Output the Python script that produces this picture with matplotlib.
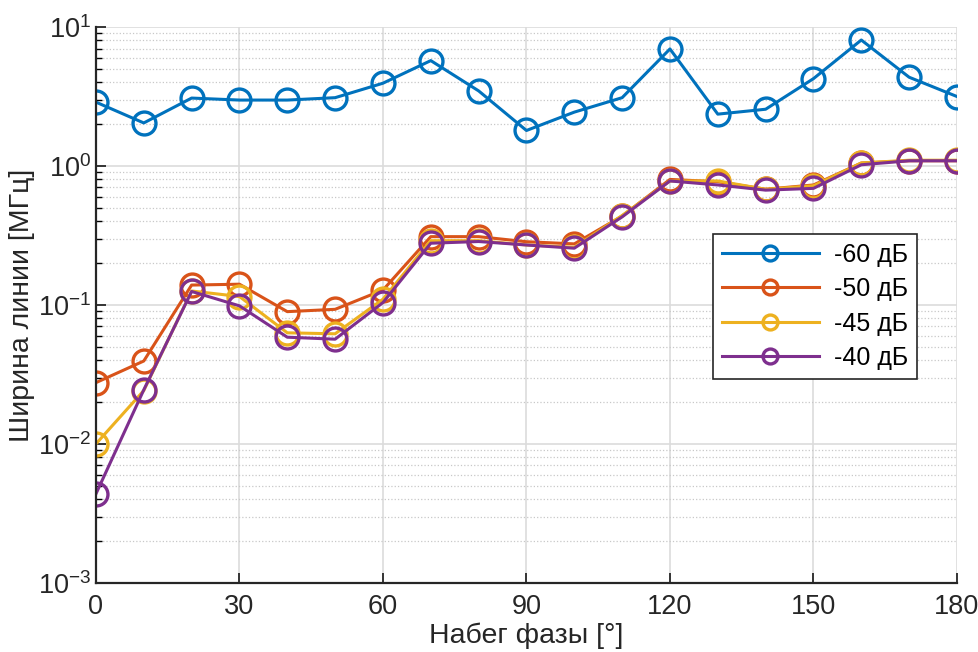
import numpy as np
import matplotlib
matplotlib.use('Agg')
import matplotlib.pyplot as plt
from matplotlib.ticker import LogLocator, FixedLocator, NullFormatter

plt.rcParams['font.family'] = ['Liberation Sans', 'DejaVu Sans']
plt.rcParams['mathtext.default'] = 'regular'

phase = [0, 10, 20, 30, 40, 50, 60, 70, 80, 90, 100, 110, 120, 130, 140, 150, 160, 170, 180]

w60 = [2.88, 2.04, 3.08, 2.98, 2.98, 3.10, 3.94, 5.73, 3.47, 1.80, 2.44, 3.10, 6.95, 2.36, 2.56, 4.25, 8.06, 4.35, 3.16]
w50 = [0.0276, 0.0395, 0.139, 0.141, 0.0895, 0.093, 0.128, 0.31, 0.31, 0.285, 0.275, 0.436, 0.80, 0.77, 0.68, 0.73, 1.05, 1.09, 1.09]
w45 = [0.0100, 0.0242, 0.126, 0.115, 0.063, 0.062, 0.110, 0.29, 0.29, 0.27, 0.26, 0.44, 0.78, 0.78, 0.68, 0.72, 1.05, 1.10, 1.10]
w40 = [0.00437, 0.0245, 0.125, 0.0985, 0.0586, 0.0567, 0.104, 0.278, 0.286, 0.27, 0.256, 0.43, 0.78, 0.73, 0.67, 0.69, 1.02, 1.09, 1.09]

labels = ['-60 дБ', '-50 дБ', '-45 дБ', '-40 дБ']
colors = ['#0072BD', '#D95319', '#EDB120', '#7E2F8E']

fig = plt.figure(figsize=(9.79, 6.52), dpi=100)
ax = fig.add_axes([0.098, 0.106, 0.8795, 0.8526])

for ys, lab, c in zip([w60, w50, w45, w40], labels, colors):
    ax.plot(phase, ys, '-o', color=c, lw=2.2, ms=16.5, mew=2.4,
            markerfacecolor='none', label=lab)

ax.set_yscale('log')
ax.set_xlim(0, 180)
ax.set_ylim(1e-3, 1e1)
ax.set_xticks([0, 30, 60, 90, 120, 150, 180])
ax.yaxis.set_major_locator(FixedLocator([1e-3, 1e-2, 1e-1, 1e0, 1e1]))
ax.yaxis.set_minor_locator(LogLocator(base=10, subs=np.arange(2, 10)))
ax.yaxis.set_minor_formatter(NullFormatter())
ax.set_yticklabels(['$10^{-3}$', '$10^{-2}$', '$10^{-1}$', '$10^{0}$', '$10^{1}$'])

ax.grid(True, which='major', color='#dcdcdc', lw=1.2)
ax.grid(True, which='minor', axis='y', color='#c8c8c8', lw=0.9, ls=':')
ax.set_axisbelow(True)

for s in ['top', 'right']:
    ax.spines[s].set_visible(False)
for s in ['left', 'bottom']:
    ax.spines[s].set_linewidth(1.6)
    ax.spines[s].set_color('#262626')

ax.tick_params(axis='both', which='major', direction='in', length=7, width=1.3,
               labelsize=19.5, colors='#262626')
ax.tick_params(axis='y', which='minor', direction='in', length=4, width=1.0)
ax.tick_params(axis='x', pad=8)

ax.set_xlabel('Набег фазы [°]', fontsize=20.5, color='#262626', labelpad=2)
ax.set_ylabel('Ширина линии [МГц]', fontsize=20.5, color='#262626', labelpad=2)

leg = ax.legend(loc='upper left', bbox_to_anchor=(0.7166, 0.6277), borderaxespad=0,
                fontsize=18, frameon=True, fancybox=False, edgecolor='#262626',
                framealpha=1, handlelength=3.9, handletextpad=0.6,
                borderpad=0.35, labelspacing=0.42, markerscale=0.65)
leg.get_frame().set_linewidth(1.2)

fig.savefig('out.png', dpi=100)
